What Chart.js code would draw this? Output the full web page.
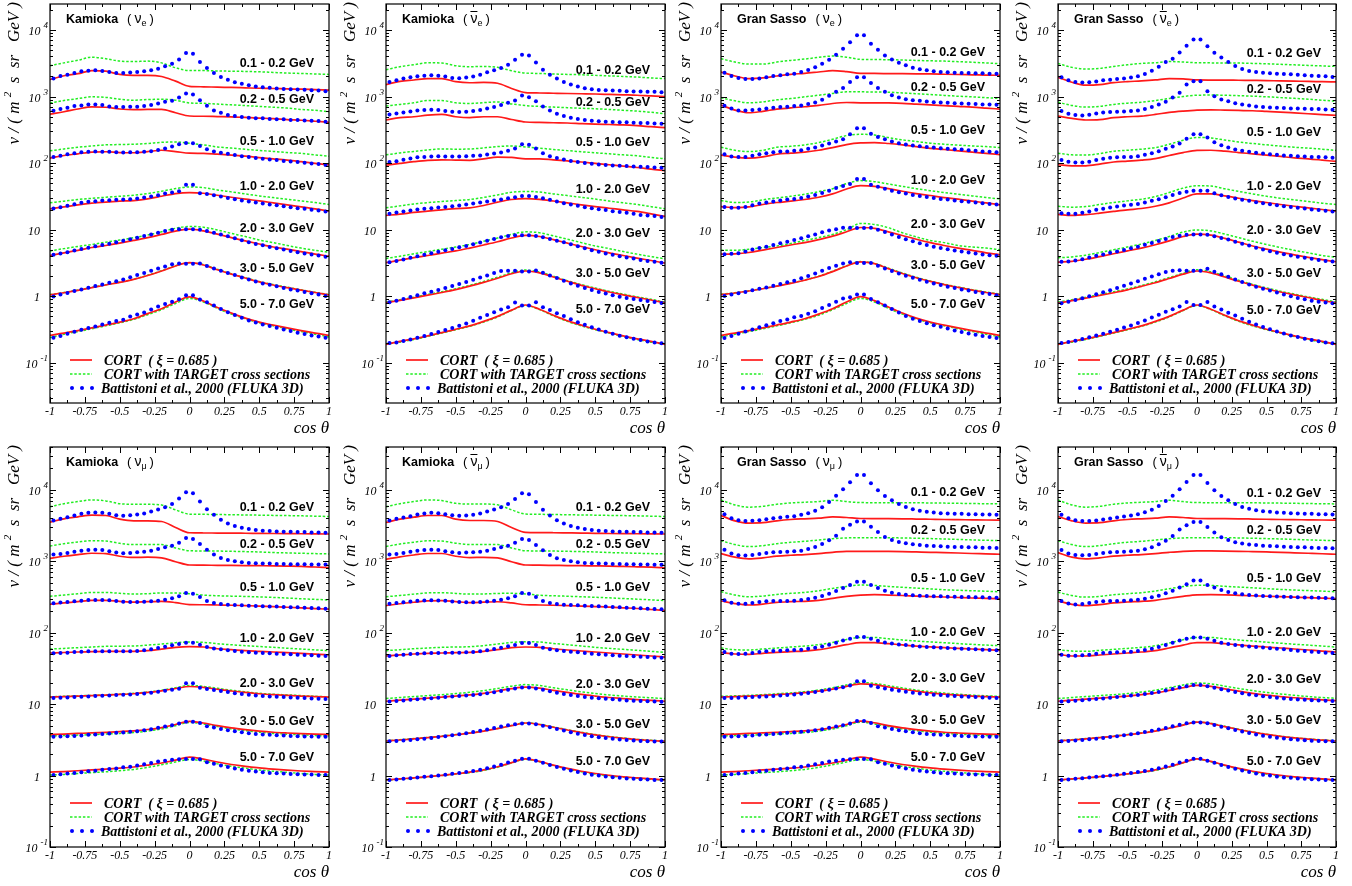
<!DOCTYPE html>
<html>
<head>
<meta charset="utf-8">
<script src="https://cdn.jsdelivr.net/npm/chart.js@4.4.1/dist/chart.umd.min.js"></script>
<style>
  body { margin: 0; background: #fff; width: 1352px; height: 886px; overflow: hidden; position: relative; }
  canvas { position: absolute; }
</style>
</head>
<body>
<script>
// cos(theta) grid of the two CORT curves, and the 40 bin centres of the FLUKA points
var xLine = [-1, -0.9, -0.8, -0.7, -0.6, -0.5, -0.4, -0.3, -0.2, -0.1, 0, 0.1, 0.2, 0.3, 0.4, 0.5, 0.6, 0.7, 0.8, 0.9, 1];
var xDots = [-0.975, -0.925, -0.875, -0.825, -0.775, -0.725, -0.675, -0.625, -0.575, -0.525,
             -0.475, -0.425, -0.375, -0.325, -0.275, -0.225, -0.175, -0.125, -0.075, -0.025,
             0.025, 0.075, 0.125, 0.175, 0.225, 0.275, 0.325, 0.375, 0.425, 0.475,
             0.525, 0.575, 0.625, 0.675, 0.725, 0.775, 0.825, 0.875, 0.925, 0.975];
var energyBins = ["0.1 - 0.2 GeV", "0.2 - 0.5 GeV", "0.5 - 1.0 GeV", "1.0 - 2.0 GeV", "2.0 - 3.0 GeV", "3.0 - 5.0 GeV", "5.0 - 7.0 GeV"];
var xTickLabels = ["-1", "-0.75", "-0.5", "-0.25", "0", "0.25", "0.5", "0.75", "1"];
var xTickValues = [-1, -0.75, -0.5, -0.25, 0, 0.25, 0.5, 0.75, 1];
var legendLabels = ["CORT  ( \u03be = 0.685 )", "CORT with TARGET cross sections", "Battistoni et al., 2000 (FLUKA 3D)"];

// ---------- Kamioka, nu_e ----------
var kamNueCort = [
  [1800,2050,2200,2450,2400,2150,2080,2080,2000,1700,1420,1400,1380,1370,1350,1330,1320,1300,1290,1270,1250],
  [545,590,650,700,690,650,635,640,640,570,510,505,500,495,485,475,465,450,440,425,410],
  [119,130,138,146,148,144,143,149,156,149,141,140,136,132,127,121,116,111,105,99,94],
  [20.6,22.0,23.6,25.0,26.0,26.8,27.4,29.0,31.8,34.9,36.1,35.3,32.9,30.7,28.7,27.1,25.3,23.6,22.0,20.6,19.0],
  [4.1,4.5,4.9,5.4,5.8,6.3,6.9,7.6,8.5,9.5,10.2,9.6,8.6,7.6,6.8,6.1,5.5,5.1,4.7,4.3,4.0],
  [1.05,1.13,1.23,1.35,1.48,1.62,1.80,2.05,2.40,2.85,3.2,2.95,2.5,2.15,1.88,1.65,1.48,1.35,1.24,1.14,1.05],
  [0.26,0.28,0.305,0.335,0.37,0.41,0.46,0.55,0.65,0.82,0.98,0.85,0.68,0.56,0.47,0.41,0.37,0.335,0.305,0.28,0.26]
];
var kamNueTarget = [
  [2900,3200,3500,3900,3700,3400,3350,3400,3200,2700,2450,2450,2420,2400,2380,2350,2300,2250,2220,2180,2150],
  [800,870,930,990,970,910,880,900,910,880,800,790,770,750,730,710,690,670,640,620,590],
  [153,163,173,181,188,190,192,197,205,208,199,188,175,168,161,155,150,144,140,133,127],
  [25.3,26.8,28.4,29.6,30.7,31.8,32.9,34.9,37.8,41.5,43.9,42.9,39.6,37.0,34.5,32.2,30.4,28.7,27.1,25.6,23.9],
  [4.8,5.2,5.6,6.0,6.5,7.0,7.6,8.3,9.3,10.5,11.2,10.9,9.9,8.8,7.9,7.0,6.4,5.8,5.3,4.9,4.6],
  [1.06,1.14,1.24,1.36,1.49,1.63,1.81,2.07,2.42,2.88,3.2,3.0,2.55,2.18,1.9,1.67,1.5,1.37,1.25,1.15,1.06],
  [0.24,0.27,0.295,0.325,0.36,0.40,0.45,0.53,0.63,0.78,0.93,0.82,0.66,0.54,0.46,0.40,0.36,0.325,0.295,0.27,0.245]
];
var kamNueFluka = [
  [1860,2030,2130,2250,2390,2440,2470,2420,2330,2260,2260,2300,2330,2390,2470,2620,2840,3110,3610,4490,4390,3290,2680,2260,1970,1790,1640,1550,1480,1410,1380,1350,1320,1300,1290,1270,1260,1240,1230,1200],
  [611,647,677,718,734,760,760,743,710,693,693,702,702,718,743,786,832,861,966,1109,1071,881,726,618,570,527,509,492,481,470,470,459,454,454,444,444,438,433,428,419],
  [124,129,136,141,146,148,149,148,148,146,144,146,146,148,151,158,166,177,192,201,199,181,162,149,143,138,132,127,123,119,116,113,111,108,106,104,101,99,97,94],
  [20.8,21.8,22.8,24.2,25.3,26.2,26.8,27.4,27.8,28.1,28.4,28.7,29.4,30.4,31.4,32.9,34.9,36.1,37.8,47.5,47.5,35.3,34.5,32.9,31.4,30.0,28.7,27.4,26.5,25.6,24.7,23.9,23.3,22.5,21.8,21.0,20.6,19.9,19.4,18.8],
  [4.19,4.38,4.59,4.86,5.14,5.38,5.64,5.90,6.18,6.47,6.85,7.17,7.60,8.04,8.51,9.02,9.55,10.0,10.2,10.2,10.2,10.0,9.55,9.02,8.51,7.95,7.43,6.93,6.47,6.11,5.83,5.51,5.26,5.03,4.81,4.59,4.38,4.24,4.09,3.91],
  [0.99,1.06,1.12,1.20,1.27,1.35,1.43,1.51,1.60,1.69,1.79,1.94,2.08,2.23,2.42,2.62,2.81,3.04,3.11,3.08,3.08,3.11,2.84,2.62,2.42,2.23,2.08,1.92,1.79,1.67,1.56,1.49,1.41,1.33,1.27,1.22,1.16,1.11,1.06,1.01],
  [0.239,0.253,0.274,0.294,0.315,0.333,0.353,0.378,0.400,0.424,0.443,0.498,0.532,0.570,0.632,0.701,0.769,0.832,0.902,1.035,1.035,0.892,0.813,0.726,0.647,0.577,0.526,0.475,0.433,0.405,0.378,0.357,0.337,0.318,0.301,0.284,0.271,0.259,0.250,0.239]
];
var kamNueLabelY = [3110, 906, 212, 44, 10.4, 2.65, 0.745];

// ---------- Kamioka, anti nu_e ----------
var kamNuebarCort = [
  [1510,1690,1770,1857,1857,1670,1610,1630,1580,1320,1145,1130,1120,1110,1100,1090,1075,1060,1045,1020,1000],
  [444,481,497,525,538,497,481,497,497,452,414,409,404,400,392,385,380,375,365,352,340],
  [93,99,105,110,112,111,110,116,123,122,116,116,112,108,104,99,94.5,90,86,81,77],
  [16.4,17.1,18.2,19.0,19.9,20.8,21.3,23.1,25.9,28.4,29.3,28.6,27.0,25.3,23.6,22.2,21.0,19.9,18.8,17.3,15.8],
  [3.2,3.5,3.8,4.1,4.45,4.8,5.3,5.9,6.6,7.5,8.2,7.9,7.1,6.3,5.6,5.0,4.5,4.1,3.75,3.45,3.15],
  [0.80,0.87,0.95,1.04,1.14,1.26,1.42,1.62,1.87,2.18,2.4,2.25,1.95,1.68,1.46,1.30,1.16,1.05,0.96,0.88,0.80],
  [0.19,0.21,0.23,0.255,0.285,0.32,0.36,0.42,0.50,0.62,0.74,0.64,0.52,0.43,0.37,0.32,0.285,0.255,0.23,0.21,0.19]
];
var kamNuebarTarget = [
  [2529,2800,3005,3210,3180,2900,2800,2830,2740,2440,2250,2220,2180,2150,2120,2080,2040,2000,1960,1900,1857],
  [720,760,804,871,871,804,785,810,830,775,730,710,693,680,665,655,640,620,604,580,551],
  [133,142,150,158,163,162,163,169,177,181,175,168,160,154,148,143,138,133,129,122,116],
  [21.3,22.8,24.4,25.5,26.5,27.4,28.4,30.5,33.3,36.5,37.6,36.8,34.5,32.5,30.7,28.8,27.0,25.3,23.9,22.2,20.6],
  [3.7,4.0,4.35,4.7,5.1,5.5,6.0,6.7,7.5,8.5,9.3,9.0,8.1,7.2,6.4,5.7,5.2,4.7,4.3,3.95,3.65],
  [0.82,0.89,0.97,1.07,1.17,1.30,1.46,1.67,1.93,2.25,2.48,2.32,2.0,1.72,1.50,1.33,1.19,1.08,0.98,0.90,0.82],
  [0.19,0.205,0.225,0.25,0.28,0.315,0.355,0.41,0.49,0.61,0.73,0.63,0.51,0.42,0.36,0.315,0.28,0.25,0.225,0.205,0.19]
];
var kamNuebarFluka = [
  [1655,1754,1857,1945,2011,2057,2081,2057,1990,1900,1878,1922,1990,2129,2307,2472,2679,3005,3566,4236,4140,3255,2529,2129,1857,1655,1510,1409,1330,1286,1258,1245,1230,1216,1202,1188,1188,1175,1175,1161],
  [538,557,577,597,618,625,632,625,604,590,583,590,604,625,662,693,743,804,871,1035,977,851,710,618,551,509,481,459,444,433,424,419,414,409,409,405,400,400,395,391],
  [104,107,112,117,122,124,126,127,126,126,126,127,129,130,135,139,144,153,166,192,188,166,141,127,119,113,108,104,100,97.7,95.5,93.3,92.3,91.2,90.2,89.1,88.1,87.1,86.1,85.1],
  [17.3,18.2,18.8,19.4,20.1,20.6,21.0,21.5,22.0,22.5,23.1,23.9,24.7,25.6,26.5,27.4,28.4,29.7,30.7,32.2,32.2,31.1,29.7,28.1,26.5,25.0,23.9,22.8,21.8,21.0,20.3,19.7,19.0,18.4,17.9,17.3,16.7,16.4,16.0,15.5],
  [3.25,3.40,3.56,3.78,4.00,4.19,4.44,4.65,4.92,5.14,5.45,5.71,6.04,6.40,6.85,7.26,7.69,8.04,8.23,8.23,8.23,8.04,7.69,7.26,6.85,6.47,6.04,5.64,5.26,4.92,4.65,4.38,4.19,4.00,3.82,3.69,3.52,3.40,3.29,3.18],
  [0.813,0.861,0.912,0.977,1.035,1.11,1.17,1.24,1.33,1.43,1.53,1.64,1.77,1.92,2.06,2.23,2.39,2.42,2.42,2.36,2.36,2.44,2.25,2.06,1.88,1.71,1.56,1.44,1.33,1.24,1.16,1.10,1.035,0.989,0.944,0.912,0.881,0.851,0.822,0.794],
  [0.199,0.203,0.213,0.225,0.239,0.253,0.271,0.290,0.311,0.333,0.361,0.391,0.429,0.475,0.526,0.577,0.632,0.686,0.804,0.726,0.726,0.813,0.686,0.625,0.557,0.508,0.454,0.409,0.373,0.344,0.318,0.294,0.274,0.256,0.242,0.231,0.220,0.210,0.203,0.197]
];
var kamNuebarLabelY = [2470, 802, 203, 39.9, 8.9, 2.17, 0.63];

// ---------- Gran Sasso, nu_e ----------
var gsNueCort = [
  [2333,2033,1857,1900,2033,2153,2228,2333,2443,2360,2228,2220,2210,2200,2190,2180,2160,2140,2120,2100,2081],
  [743,625,570,600,645,677,702,734,786,813,804,804,800,790,770,751,730,710,693,670,647],
  [132,123,119,124,136,141,146,156,171,190,201,203,197,188,177,167,160,153,146,140,134],
  [22.2,21.5,22.0,23.9,25.6,26.8,28.4,30.7,34.5,40.8,45.8,44.8,41.3,37.8,34.9,32.6,30.4,28.7,26.8,25.3,23.6],
  [4.3,4.35,4.55,4.95,5.4,5.9,6.4,7.1,8.0,9.3,10.8,10.5,9.3,8.2,7.2,6.4,5.8,5.3,4.9,4.5,4.2],
  [1.06,1.12,1.20,1.30,1.42,1.56,1.74,1.98,2.35,2.85,3.3,3.1,2.6,2.2,1.9,1.68,1.5,1.36,1.24,1.14,1.06],
  [0.26,0.28,0.305,0.335,0.37,0.41,0.46,0.54,0.65,0.82,0.99,0.86,0.69,0.56,0.47,0.41,0.37,0.335,0.305,0.28,0.26]
];
var gsNueTarget = [
  [3700,3290,3070,3070,3290,3485,3650,3870,4050,3900,3608,3590,3570,3530,3480,3440,3400,3340,3270,3190,3111],
  [955,861,804,832,891,933,990,1047,1109,1175,1175,1170,1161,1130,1100,1071,1040,1010,990,960,933],
  [173,156,149,156,173,179,188,203,228,259,271,265,242,223,211,199,192,186,181,177,171],
  [27.4,25.6,26.0,28.1,30.0,31.8,34.1,37.3,41.3,49.2,54.6,52.7,48.6,44.8,41.3,38.6,36.1,34.1,32.2,30.4,29.0],
  [4.9,4.9,5.1,5.4,5.7,6.2,6.9,7.6,8.5,10.0,12.4,12.0,10.7,9.0,7.8,6.9,6.4,5.8,5.5,5.3,5.0],
  [1.07,1.13,1.21,1.31,1.43,1.58,1.76,2.0,2.38,2.88,3.32,3.12,2.65,2.24,1.93,1.7,1.52,1.38,1.26,1.16,1.08],
  [0.245,0.27,0.295,0.325,0.36,0.40,0.45,0.52,0.63,0.78,0.93,0.82,0.66,0.54,0.46,0.40,0.36,0.325,0.295,0.27,0.245]
];
var gsNueFluka = [
  [2280,2033,1900,1836,1836,1857,1944,2033,2081,2153,2203,2333,2500,2741,3111,3566,4236,5204,6546,8318,8318,6180,5027,4140,3608,3217,2936,2710,2558,2470,2388,2333,2307,2280,2255,2255,2228,2228,2203,2203],
  [726,662,618,618,625,640,662,677,693,702,718,734,769,813,891,1023,1175,1346,1655,1944,1944,1600,1346,1175,1047,966,912,881,861,841,822,813,804,795,786,777,769,760,760,751],
  [136,126,123,123,129,136,141,146,149,149,153,156,164,171,184,197,211,228,271,333,333,277,247,228,211,199,190,184,179,175,171,167,164,162,160,156,153,149,148,146],
  [22.0,21.3,21.3,22.0,23.3,24.7,25.6,26.5,27.4,28.4,29.0,30.0,31.4,33.3,35.7,38.6,42.3,45.3,48.6,57.7,57.7,47.5,44.3,41.3,38.6,36.5,34.9,33.3,32.2,31.1,30.0,29.0,28.4,27.4,26.8,26.2,25.6,25.0,24.4,23.9],
  [4.29,4.34,4.44,4.70,5.03,5.32,5.57,5.90,6.25,6.62,7.01,7.43,7.95,8.51,9.12,9.77,10.2,10.7,10.7,10.6,10.6,10.7,10.0,9.23,8.51,7.78,7.17,6.70,6.25,5.90,5.57,5.32,5.08,4.86,4.70,4.54,4.38,4.24,4.14,4.05],
  [1.01,1.06,1.11,1.16,1.23,1.30,1.36,1.44,1.53,1.62,1.71,1.86,2.01,2.20,2.42,2.65,2.87,3.11,3.25,3.15,3.15,3.15,2.87,2.62,2.39,2.20,2.03,1.90,1.77,1.66,1.56,1.48,1.39,1.33,1.27,1.22,1.16,1.12,1.08,1.035],
  [0.236,0.253,0.274,0.297,0.318,0.344,0.369,0.395,0.424,0.449,0.486,0.508,0.545,0.597,0.670,0.743,0.832,0.923,0.966,1.06,1.06,0.912,0.813,0.726,0.647,0.570,0.508,0.459,0.424,0.395,0.369,0.349,0.329,0.307,0.290,0.277,0.265,0.253,0.244,0.236]
];
var gsNueLabelY = [4540, 1352, 313, 55.6, 12.0, 2.94, 0.745];

// ---------- Gran Sasso, anti nu_e ----------
var gsNuebarCort = [
  [1944,1636,1480,1510,1618,1675,1714,1772,1857,1836,1772,1768,1764,1754,1745,1735,1714,1700,1690,1670,1655],
  [508,470,444,449,481,497,508,538,577,604,625,632,625,618,611,597,583,567,551,535,520],
  [94.5,91.2,91.2,96.5,104,107,111,117,130,144,155,156,151,144,138,132,126,120,116,111,106],
  [17.0,16.4,16.8,17.7,18.8,19.9,20.8,22.5,25.3,30.0,34.5,34.5,32.2,29.7,27.4,25.6,23.9,22.5,21.3,20.1,19.0],
  [3.25,3.35,3.6,3.95,4.35,4.8,5.3,5.95,6.8,7.9,8.6,8.3,7.4,6.5,5.7,5.1,4.6,4.2,3.85,3.55,3.3],
  [0.79,0.86,0.94,1.03,1.13,1.25,1.41,1.60,1.85,2.15,2.4,2.25,1.95,1.68,1.47,1.30,1.16,1.05,0.96,0.87,0.80],
  [0.19,0.21,0.23,0.255,0.285,0.32,0.36,0.42,0.50,0.62,0.74,0.64,0.52,0.43,0.37,0.32,0.285,0.255,0.23,0.21,0.19]
];
var gsNuebarTarget = [
  [3140,2740,2588,2640,2830,3000,3140,3210,3360,3292,3210,3200,3190,3180,3140,3100,3040,2990,2930,2880,2830],
  [820,734,693,710,760,795,820,871,933,1000,1047,1050,1047,1030,1012,990,966,940,912,880,851],
  [141,133,132,139,151,156,162,171,192,221,242,239,222,208,197,188,180,173,168,162,155],
  [22.5,21.8,22.3,23.9,25.6,27.1,28.7,31.4,36.1,42.1,45.8,45.3,41.1,37.6,34.5,31.8,29.7,28.1,26.5,25.0,23.9],
  [3.8,3.9,4.15,4.55,5.0,5.5,6.1,6.9,7.9,9.2,9.9,9.6,8.6,7.6,6.7,6.0,5.4,4.9,4.5,4.1,3.85],
  [0.82,0.89,0.97,1.06,1.17,1.29,1.45,1.65,1.91,2.22,2.5,2.33,2.02,1.74,1.51,1.34,1.19,1.08,0.98,0.90,0.82],
  [0.19,0.205,0.225,0.25,0.28,0.315,0.355,0.41,0.49,0.61,0.73,0.63,0.51,0.42,0.36,0.315,0.28,0.25,0.225,0.205,0.19]
];
var gsNuebarFluka = [
  [1944,1754,1655,1618,1636,1675,1754,1793,1836,1857,1922,2011,2178,2443,2805,3292,3690,4590,5773,7175,7175,5706,4540,3863,3292,2868,2588,2415,2333,2280,2228,2203,2178,2153,2129,2081,2057,2033,2011,1966],
  [604,551,526,520,532,557,577,583,590,597,604,618,647,693,760,832,966,1135,1510,1694,1694,1202,1012,902,851,795,760,734,710,693,686,677,670,662,662,655,647,647,640,632],
  [111,105,102,102,105,111,116,120,122,123,124,127,133,141,151,164,177,197,233,271,271,242,206,186,171,160,153,148,143,139,136,133,130,129,127,126,124,123,122,120],
  [17.7,17.3,17.3,17.9,18.8,19.9,20.6,21.5,22.3,23.1,23.6,24.4,25.6,27.1,28.7,30.7,33.3,35.7,37.3,38.6,38.6,38.6,35.3,32.9,31.1,29.4,28.1,27.1,25.9,25.0,24.2,23.3,22.5,22.0,21.3,20.8,20.1,19.7,19.2,18.8],
  [3.29,3.33,3.44,3.61,3.82,4.05,4.24,4.49,4.70,4.97,5.26,5.57,5.97,6.32,6.78,7.26,7.78,8.13,8.41,8.51,8.51,8.41,7.95,7.51,7.10,6.62,6.18,5.77,5.38,5.03,4.75,4.49,4.29,4.09,3.91,3.78,3.65,3.52,3.40,3.33],
  [0.787,0.832,0.881,0.933,1.00,1.07,1.15,1.23,1.33,1.44,1.56,1.69,1.84,1.99,2.15,2.31,2.42,2.47,2.42,2.42,2.42,2.59,2.33,2.15,1.97,1.79,1.64,1.51,1.39,1.30,1.22,1.14,1.06,1.00,0.944,0.902,0.861,0.832,0.804,0.787],
  [0.199,0.206,0.216,0.228,0.242,0.257,0.274,0.294,0.316,0.340,0.366,0.397,0.434,0.480,0.53,0.585,0.64,0.70,0.82,0.74,0.74,0.82,0.70,0.635,0.565,0.515,0.46,0.415,0.378,0.347,0.321,0.297,0.277,0.259,0.244,0.231,0.220,0.211,0.203,0.197]
];
var gsNuebarLabelY = [4385, 1285, 286, 44.8, 9.66, 2.17, 0.61];

// ---------- Kamioka, nu_mu ----------
var kamNumuCort = [
  [3550,3947,4210,4440,4390,3900,3700,3700,3620,2990,2520,2500,2495,2490,2480,2470,2460,2450,2440,2430,2420],
  [1100,1180,1245,1300,1285,1180,1135,1145,1119,990,890,885,880,878,875,870,865,858,850,835,820],
  [251,262,273,285,285,276,268,273,276,265,248,247,245,243,240,237,233,228,223,218,214],
  [52.1,53.0,53.8,54.4,55.0,55.0,55.0,56.2,59.2,62.6,63.9,63.2,59.8,58.0,56.2,55.0,53.8,52.7,51.6,50.2,48.9],
  [12.6,12.8,13.0,13.2,13.4,13.7,14.0,14.6,15.4,16.6,17.7,17.2,16.2,15.3,14.6,14.0,13.6,13.3,13.0,12.8,12.6],
  [3.76,3.82,3.89,3.96,4.04,4.13,4.24,4.42,4.7,5.2,5.76,5.45,5.0,4.65,4.4,4.2,4.05,3.95,3.87,3.81,3.76],
  [1.12,1.14,1.17,1.2,1.23,1.27,1.32,1.4,1.5,1.65,1.82,1.7,1.55,1.43,1.35,1.28,1.23,1.19,1.16,1.14,1.12]
];
var kamNumuTarget = [
  [5800,6430,6880,7260,7030,6430,6300,6300,6170,5270,4590,4560,4535,4500,4470,4440,4410,4380,4345,4300,4250],
  [1640,1770,1870,1950,1930,1790,1720,1730,1720,1540,1410,1400,1395,1385,1370,1355,1330,1315,1300,1285,1272],
  [325,337,353,368,368,357,349,353,361,361,353,337,330,326,323,318,313,306,300,294,288],
  [59.2,60.5,61.9,63.2,64.6,65.0,65.3,67.2,69.5,72.6,74.2,73.4,70.3,68.0,66.0,64.2,62.6,60.8,59.2,57.7,56.2],
  [12.7,12.9,13.1,13.3,13.5,13.8,14.2,14.8,15.7,17.0,18.3,17.8,16.7,15.7,14.9,14.2,13.8,13.5,13.2,12.9,12.7],
  [3.6,3.64,3.69,3.75,3.82,3.9,4.0,4.2,4.5,5.0,5.55,5.3,4.85,4.5,4.25,4.05,3.9,3.8,3.72,3.65,3.6],
  [1.02,1.04,1.07,1.1,1.13,1.17,1.22,1.3,1.42,1.55,1.68,1.6,1.46,1.35,1.27,1.2,1.15,1.11,1.07,1.04,1.02]
];
var kamNumuFluka = [
  [3742,3947,4163,4392,4633,4784,4836,4784,4633,4439,4345,4439,4535,4683,4993,5323,5737,6383,7573,9280,8985,6880,5381,4487,3823,3399,3120,2958,2834,2745,2687,2658,2630,2602,2602,2574,2574,2547,2547,2520],
  [1245,1272,1313,1370,1415,1446,1461,1446,1385,1327,1299,1313,1341,1370,1415,1493,1575,1661,1829,2124,2057,1752,1461,1245,1119,1049,1005,974,953,943,933,933,923,923,913,913,913,904,904,904],
  [259,265,270,276,282,288,288,288,285,279,273,270,270,273,276,282,291,304,324,361,353,317,279,262,254,248,245,243,240,238,235,233,233,230,228,228,225,223,220,218],
  [51.6,52.1,52.7,53.8,54.4,55.0,55.0,55.0,55.0,55.0,55.0,55.0,55.6,56.8,58.6,61.2,63.9,66.7,69.5,72.6,72.6,68.1,63.2,60.5,58.6,56.8,55.6,54.4,53.2,52.7,52.1,51.6,51.0,50.5,49.9,49.4,48.9,48.3,47.8,47.3],
  [12.18,12.31,12.45,12.58,12.71,12.85,12.99,13.13,13.27,13.41,13.55,13.70,13.85,14.14,14.45,14.93,15.42,15.93,16.44,19.7,19.7,16.98,16.27,15.76,15.26,14.77,14.29,13.85,13.55,13.27,12.99,12.85,12.71,12.58,12.45,12.31,12.18,12.05,11.93,11.80],
  [3.49,3.53,3.56,3.60,3.64,3.72,3.76,3.84,3.88,3.97,4.01,4.10,4.19,4.33,4.47,4.66,4.86,5.08,5.36,5.70,5.70,5.47,4.91,4.71,4.51,4.33,4.19,4.06,3.93,3.84,3.76,3.72,3.68,3.64,3.60,3.56,3.53,3.53,3.49,3.49],
  [1.021,1.044,1.066,1.09,1.11,1.15,1.17,1.21,1.24,1.26,1.31,1.33,1.38,1.44,1.50,1.57,1.62,1.67,1.69,1.71,1.71,1.69,1.54,1.47,1.39,1.32,1.26,1.21,1.17,1.14,1.11,1.09,1.08,1.066,1.054,1.044,1.033,1.033,1.021,1.021]
];
var kamNumuLabelY = [5720, 1746, 426, 83, 19.4, 5.8, 1.77];

// ---------- Kamioka, anti nu_mu ----------
var kamNumubarCort = [
  [3510,3900,4160,4390,4390,3900,3740,3740,3620,2990,2550,2530,2520,2505,2490,2470,2460,2450,2440,2430,2420],
  [1070,1160,1230,1290,1290,1180,1130,1140,1120,990,890,885,880,875,870,865,860,850,840,830,815],
  [240,255,268,280,282,274,265,268,272,262,247,245,243,240,237,233,229,224,219,212,205],
  [47.3,49.0,50.5,51.6,52.1,52.7,53.2,55.0,58.0,61.9,63.2,62.6,59.8,57.4,55.6,53.8,52.1,50.5,48.9,47.3,45.7],
  [11.0,11.4,11.8,12.2,12.6,13.0,13.5,14.2,15.3,16.5,17.3,16.8,15.6,14.6,13.7,13.0,12.4,12.0,11.6,11.3,11.0],
  [3.05,3.15,3.27,3.4,3.55,3.73,3.94,4.2,4.55,5.0,5.45,5.2,4.75,4.35,4.0,3.72,3.5,3.33,3.2,3.1,3.02],
  [0.87,0.9,0.93,0.97,1.01,1.06,1.12,1.2,1.33,1.52,1.72,1.58,1.4,1.26,1.15,1.07,1.01,0.96,0.93,0.9,0.87]
];
var kamNumubarTarget = [
  [5800,6430,6880,7260,7100,6500,6350,6350,6200,5270,4600,4560,4535,4500,4470,4440,4410,4380,4345,4300,4250],
  [1620,1750,1860,1940,1930,1800,1720,1730,1720,1540,1410,1400,1395,1385,1370,1355,1330,1315,1300,1285,1272],
  [320,333,348,362,365,356,348,350,356,357,350,336,330,325,320,314,309,302,296,289,283],
  [56.2,58.0,59.8,61.2,62.6,63.2,63.9,66.0,69.5,73.4,75.0,74.2,71.0,68.1,65.3,62.6,60.5,58.6,56.8,55.0,53.2],
  [12.0,12.4,12.8,13.2,13.6,14.1,14.7,15.5,16.6,17.9,18.8,18.3,17.0,15.9,14.9,14.1,13.5,13.0,12.6,12.3,12.0],
  [3.08,3.18,3.3,3.43,3.58,3.76,3.97,4.23,4.58,5.03,5.5,5.25,4.8,4.4,4.04,3.75,3.53,3.36,3.23,3.13,3.05],
  [0.86,0.89,0.92,0.96,1.0,1.05,1.1,1.18,1.31,1.5,1.69,1.56,1.38,1.24,1.13,1.05,0.99,0.95,0.92,0.89,0.86]
];
var kamNumubarFluka = [
  [3742,3947,4120,4300,4535,4683,4784,4733,4585,4439,4345,4392,4487,4683,4993,5323,5737,6383,7492,8985,8705,6806,5267,4392,3783,3399,3120,2958,2834,2745,2687,2658,2630,2602,2602,2574,2574,2547,2547,2520],
  [1245,1272,1313,1370,1415,1446,1461,1446,1385,1341,1313,1327,1341,1370,1415,1493,1575,1661,1829,2057,2000,1700,1430,1230,1110,1049,1005,974,953,943,933,933,923,923,913,913,904,904,895,895],
  [255,262,268,274,280,284,285,284,280,275,270,268,268,271,275,282,291,304,324,361,353,317,279,262,254,248,245,243,240,238,235,233,230,228,225,223,220,218,216,214],
  [47.3,48.3,49.4,50.5,51.0,51.6,52.1,52.1,52.7,52.7,52.7,53.2,53.8,55.0,56.8,59.2,61.9,64.6,67.4,71.8,71.8,67.4,61.9,58.6,56.8,55.6,54.4,53.2,52.1,51.0,49.9,49.4,48.3,47.8,47.3,46.8,46.2,45.7,45.2,44.7],
  [10.9,11.1,11.3,11.5,11.7,11.9,12.1,12.3,12.6,12.8,13.0,13.2,13.5,13.8,14.2,14.7,15.3,15.9,16.6,17.2,17.2,16.6,15.9,15.2,14.5,13.9,13.4,13.0,12.6,12.3,12.1,11.9,11.7,11.5,11.3,11.2,11.1,11.0,10.9,10.8],
  [3.02,3.06,3.11,3.16,3.22,3.29,3.37,3.46,3.56,3.67,3.79,3.92,4.07,4.24,4.43,4.64,4.86,5.08,5.25,5.36,5.36,5.25,5.0,4.75,4.5,4.27,4.06,3.87,3.71,3.57,3.45,3.35,3.27,3.2,3.14,3.09,3.05,3.03,3.01,3.0],
  [0.87,0.88,0.90,0.92,0.94,0.96,0.98,1.0,1.03,1.06,1.09,1.12,1.16,1.21,1.27,1.34,1.42,1.52,1.62,1.72,1.72,1.62,1.51,1.41,1.32,1.25,1.18,1.12,1.07,1.03,1.0,0.97,0.95,0.93,0.91,0.90,0.89,0.88,0.87,0.87]
];
var kamNumubarLabelY = [5720, 1746, 426, 83, 19.0, 5.27, 1.56];

// ---------- Gran Sasso, nu_mu ----------
var gsNumuCort = [
  [4390,3700,3440,3480,3700,3860,3950,4030,4210,4120,3990,3980,3970,3950,3920,3890,3860,3840,3820,3800,3783],
  [1285,1145,1085,1120,1185,1220,1245,1285,1341,1385,1385,1385,1380,1370,1355,1340,1327,1310,1290,1275,1258],
  [279,256,245,252,267,273,276,285,304,324,338,342,338,333,327,322,317,312,307,303,300],
  [52.7,50.5,49.9,51.6,53.2,54.4,55.5,58.0,62.5,68.1,72.6,72.6,70.3,67.7,65.2,63.4,61.8,60.5,59.3,58.0,56.8],
  [12.6,12.8,13.0,13.3,13.6,14.0,14.5,15.2,16.3,17.8,19.3,18.8,17.4,16.2,15.2,14.4,13.8,13.4,13.0,12.8,12.6],
  [3.76,3.82,3.89,3.96,4.04,4.13,4.24,4.42,4.7,5.2,5.8,5.5,5.0,4.65,4.4,4.2,4.05,3.95,3.87,3.81,3.76],
  [1.12,1.14,1.17,1.2,1.23,1.27,1.32,1.4,1.5,1.65,1.82,1.7,1.55,1.43,1.35,1.28,1.23,1.19,1.16,1.14,1.12]
];
var gsNumuTarget = [
  [7230,6180,5740,5920,6310,6590,6730,6880,7180,6880,6660,6650,6640,6630,6610,6590,6550,6510,6460,6420,6383],
  [1950,1720,1610,1660,1770,1850,1910,1990,2080,2130,2150,2150,2145,2130,2110,2085,2060,2030,2000,1975,1950],
  [376,338,320,327,345,357,368,388,418,446,466,461,446,434,423,412,401,394,388,382,376],
  [61.2,58.0,57.4,59.3,61.2,63.2,65.2,68.1,73.3,80.8,86.2,86.2,82.5,79.4,76.6,74.5,72.6,70.6,68.8,67.3,65.9],
  [12.9,13.1,13.3,13.6,14.0,14.4,15.0,15.8,17.0,18.6,20.1,19.6,18.2,16.9,15.8,15.0,14.3,13.8,13.4,13.1,12.9],
  [3.6,3.64,3.69,3.75,3.82,3.9,4.0,4.2,4.5,5.0,5.6,5.3,4.85,4.5,4.25,4.05,3.9,3.8,3.72,3.65,3.6],
  [1.02,1.04,1.07,1.1,1.13,1.17,1.22,1.3,1.42,1.55,1.68,1.6,1.46,1.35,1.27,1.2,1.15,1.11,1.07,1.04,1.02]
];
var gsNumuFluka = [
  [4585,4033,3783,3664,3703,3783,3905,4033,4120,4209,4300,4487,4733,5100,5737,6806,8337,10210,12790,16170,16170,12380,9894,8250,7178,6383,5799,5381,5100,4940,4836,4733,4683,4633,4633,4585,4585,4535,4535,4487],
  [1461,1285,1219,1206,1232,1272,1313,1341,1356,1370,1385,1415,1493,1592,1752,1971,2289,2865,3257,3624,3624,3055,2574,2193,1992,1868,1790,1734,1697,1661,1644,1626,1609,1592,1592,1575,1575,1558,1558,1541],
  [285,264,256,256,262,270,276,279,279,279,282,288,297,310,327,353,384,423,466,518,518,466,423,388,364,349,342,335,331,327,324,324,320,320,317,317,314,314,310,310],
  [53.8,51.0,50.5,51.0,52.1,53.8,55.0,55.5,56.2,56.8,57.4,58.0,59.9,61.8,64.5,68.1,72.6,78.2,82.5,87.0,87.0,82.5,77.4,73.3,71.0,68.8,67.3,65.9,64.5,63.2,62.5,61.8,61.2,60.5,59.9,59.3,58.6,58.0,57.4,56.8],
  [12.18,12.18,12.31,12.45,12.58,12.71,12.85,12.99,13.27,13.41,13.70,13.99,14.30,14.77,15.26,15.93,16.6,17.3,18.3,21.0,21.0,18.1,17.3,16.6,15.93,15.42,14.93,14.45,14.14,13.85,13.55,13.41,13.13,12.99,12.85,12.71,12.58,12.45,12.31,12.18],
  [3.49,3.53,3.56,3.60,3.64,3.72,3.76,3.84,3.88,3.97,4.01,4.10,4.19,4.33,4.47,4.66,4.86,5.08,5.36,5.80,5.80,5.47,4.91,4.71,4.51,4.33,4.19,4.06,3.93,3.84,3.76,3.72,3.68,3.64,3.60,3.56,3.53,3.53,3.49,3.49],
  [1.021,1.044,1.066,1.09,1.11,1.15,1.17,1.21,1.24,1.26,1.31,1.33,1.38,1.44,1.50,1.57,1.62,1.67,1.69,1.71,1.71,1.69,1.54,1.47,1.39,1.32,1.26,1.21,1.17,1.14,1.11,1.09,1.08,1.066,1.054,1.044,1.033,1.033,1.021,1.021]
];
var gsNumuLabelY = [9080, 2737, 569, 101, 22.6, 5.99, 1.79];

// ---------- Gran Sasso, anti nu_mu ----------
var gsNumubarCort = [
  [4250,3700,3440,3480,3700,3860,3950,4030,4210,4120,3990,3980,3970,3950,3920,3890,3860,3840,3820,3800,3783],
  [1330,1145,1085,1120,1185,1220,1245,1285,1341,1385,1400,1400,1395,1385,1370,1355,1340,1320,1300,1280,1258],
  [279,250,240,248,262,270,276,285,304,324,340,342,340,335,330,325,320,315,310,306,300],
  [49.9,47.3,47.3,48.9,50.5,52.1,53.8,56.2,61.2,67.3,72.6,72.6,70.3,67.7,65.2,63.2,61.2,59.3,57.4,55.5,53.8],
  [11.0,11.4,11.8,12.2,12.6,13.0,13.6,14.4,15.6,17.0,18.3,17.8,16.4,15.2,14.2,13.4,12.8,12.3,11.9,11.5,11.2],
  [3.05,3.15,3.27,3.4,3.55,3.73,3.94,4.2,4.6,5.1,5.6,5.35,4.85,4.42,4.06,3.77,3.54,3.37,3.24,3.13,3.05],
  [0.87,0.9,0.93,0.97,1.01,1.06,1.12,1.2,1.33,1.52,1.72,1.58,1.4,1.26,1.15,1.07,1.01,0.96,0.93,0.9,0.87]
];
var gsNumubarTarget = [
  [7230,6180,5740,5920,6310,6590,6730,6880,7180,6880,6660,6650,6640,6630,6610,6590,6550,6510,6460,6420,6383],
  [1950,1720,1610,1660,1770,1850,1910,1990,2080,2130,2150,2150,2145,2130,2110,2085,2060,2030,2000,1975,1950],
  [370,333,316,323,341,353,364,384,414,444,462,460,448,437,426,415,405,397,390,383,376],
  [58.0,55.5,55.0,56.8,58.6,60.5,62.5,65.9,72.0,80.0,86.2,86.2,82.5,79.4,76.6,73.9,71.5,69.1,67.3,65.2,63.2],
  [12.0,12.4,12.8,13.2,13.6,14.1,14.8,15.7,17.0,18.6,19.8,19.3,17.9,16.6,15.5,14.6,13.9,13.3,12.8,12.4,12.1],
  [3.08,3.18,3.3,3.43,3.58,3.76,3.97,4.23,4.63,5.13,5.65,5.4,4.9,4.46,4.1,3.8,3.57,3.4,3.27,3.16,3.08],
  [0.86,0.89,0.92,0.96,1.0,1.05,1.1,1.18,1.31,1.5,1.69,1.56,1.38,1.24,1.13,1.05,0.99,0.95,0.92,0.89,0.86]
];
var gsNumubarFluka = [
  [4487,4033,3783,3664,3664,3742,3865,3990,4120,4254,4392,4585,4887,5267,5988,7029,8337,10210,12920,16170,16170,12510,9894,8250,7178,6383,5799,5439,5211,5047,4940,4836,4784,4733,4683,4633,4633,4585,4585,4535],
  [1446,1285,1232,1219,1232,1272,1313,1341,1356,1370,1385,1415,1477,1575,1735,1950,2260,2800,3200,3560,3560,3020,2540,2170,1990,1860,1780,1720,1690,1661,1644,1626,1609,1592,1575,1575,1558,1541,1541,1525],
  [279,258,250,253,262,270,276,279,279,282,285,291,300,314,331,357,388,430,480,540,540,466,430,397,373,357,346,338,333,328,324,322,319,317,315,313,311,309,307,305],
  [49.4,47.8,47.8,48.3,49.4,51.0,52.1,52.7,53.2,53.8,54.4,55.5,57.4,59.9,63.2,67.3,72.6,78.2,82.5,86.2,86.2,82.5,77.4,72.6,69.5,67.3,65.9,64.5,63.2,62.0,60.8,59.9,58.6,57.4,56.2,55.5,54.4,53.8,52.7,52.1],
  [10.9,11.0,11.2,11.4,11.6,11.8,12.0,12.3,12.6,12.9,13.2,13.5,13.9,14.3,14.8,15.5,16.3,17.2,17.9,18.6,18.6,17.9,17.0,16.2,15.5,14.8,14.2,13.7,13.3,12.9,12.6,12.3,12.0,11.8,11.6,11.5,11.4,11.3,11.2,11.1],
  [3.02,3.06,3.11,3.16,3.22,3.29,3.37,3.46,3.56,3.67,3.79,3.92,4.07,4.24,4.43,4.64,4.90,5.15,5.40,5.55,5.55,5.40,5.1,4.85,4.6,4.36,4.14,3.94,3.77,3.62,3.49,3.39,3.3,3.23,3.17,3.12,3.08,3.05,3.03,3.02],
  [0.87,0.88,0.90,0.92,0.94,0.96,0.98,1.0,1.03,1.06,1.09,1.12,1.16,1.21,1.27,1.34,1.42,1.52,1.62,1.72,1.72,1.62,1.51,1.41,1.32,1.25,1.18,1.12,1.07,1.03,1.0,0.97,0.95,0.93,0.91,0.90,0.89,0.88,0.87,0.87]
];
var gsNumubarLabelY = [8970, 2737, 569, 101, 22.4, 5.9, 1.58];

// y ranges of the two rows of pads
var topRowRange = [0.025, 24500];
var bottomRowRange = [0.1, 40000];

// page geometry of the 4 x 2 pads
var colLeft = [0, 336, 671, 1008];
var colWidth = [336, 335, 337, 344];
var plotWidth = [279, 279, 279, 278];
var rowTop = [0, 443];
var rowHeight = 443;
var padBottom = [40, 39];

var panels = [
  {site: "Kamioka", flav: "e", anti: false, row: 0, col: 0, cort: kamNueCort, target: kamNueTarget, fluka: kamNueFluka, labelY: kamNueLabelY},
  {site: "Kamioka", flav: "e", anti: true, row: 0, col: 1, cort: kamNuebarCort, target: kamNuebarTarget, fluka: kamNuebarFluka, labelY: kamNuebarLabelY},
  {site: "Gran Sasso", flav: "e", anti: false, row: 0, col: 2, cort: gsNueCort, target: gsNueTarget, fluka: gsNueFluka, labelY: gsNueLabelY},
  {site: "Gran Sasso", flav: "e", anti: true, row: 0, col: 3, cort: gsNuebarCort, target: gsNuebarTarget, fluka: gsNuebarFluka, labelY: gsNuebarLabelY},
  {site: "Kamioka", flav: "\u03bc", anti: false, row: 1, col: 0, cort: kamNumuCort, target: kamNumuTarget, fluka: kamNumuFluka, labelY: kamNumuLabelY},
  {site: "Kamioka", flav: "\u03bc", anti: true, row: 1, col: 1, cort: kamNumubarCort, target: kamNumubarTarget, fluka: kamNumubarFluka, labelY: kamNumubarLabelY},
  {site: "Gran Sasso", flav: "\u03bc", anti: false, row: 1, col: 2, cort: gsNumuCort, target: gsNumuTarget, fluka: gsNumuFluka, labelY: gsNumuLabelY},
  {site: "Gran Sasso", flav: "\u03bc", anti: true, row: 1, col: 3, cort: gsNumubarCort, target: gsNumubarTarget, fluka: gsNumubarFluka, labelY: gsNumubarLabelY}
];

var RED = "#ff1a1a";
var GREEN = "#22ee22";
var BLUE = "#0000ff";
var SERIF = "\"Liberation Serif\", \"Times New Roman\", serif";
var SANS = "\"Liberation Sans\", Arial, sans-serif";

function pairs(xs, ys) {
  return xs.map(function (x, i) { return {x: x, y: ys[i]}; });
}

// draws the ROOT-like frame, ticks, labels, titles and legend of one pad
function padPlugin(p) {
  return {
    id: "pad" + p.row + p.col,
    afterDraw: function (chart) {
      var ctx = chart.ctx;
      var a = chart.chartArea;
      var xs = chart.scales.x;
      var ys = chart.scales.y;
      var yMin = ys.min, yMax = ys.max;
      ctx.save();

      // frame
      ctx.strokeStyle = "#000";
      ctx.lineWidth = 1.2;
      ctx.strokeRect(a.left, a.top, a.right - a.left, a.bottom - a.top);

      // log ticks on left and right
      ctx.lineWidth = 1;
      ctx.beginPath();
      for (var k = -2; k <= 4; k++) {
        for (var m = 1; m <= 9; m++) {
          var v = m * Math.pow(10, k);
          if (v < yMin * 0.999 || v > yMax) continue;
          var py = Math.round(ys.getPixelForValue(v)) + 0.5;
          var len = m === 1 ? 6 : 3;
          ctx.moveTo(a.left, py); ctx.lineTo(a.left + len, py);
          ctx.moveTo(a.right, py); ctx.lineTo(a.right - len, py);
        }
      }
      // cos theta ticks, top and bottom
      for (var i = 0; i <= 16; i++) {
        var px = Math.round(xs.getPixelForValue(-1 + i * 0.125)) + 0.5;
        var tl = i % 2 === 0 ? 6 : 3;
        ctx.moveTo(px, a.bottom); ctx.lineTo(px, a.bottom - tl);
        ctx.moveTo(px, a.top); ctx.lineTo(px, a.top + tl);
      }
      ctx.stroke();

      // y tick labels 1, 10, 10^k
      ctx.fillStyle = "#000";
      for (var e = -1; e <= 4; e++) {
        var val = Math.pow(10, e);
        if (val < yMin * 0.999 || val > yMax) continue;
        var yy = ys.getPixelForValue(val);
        ctx.textBaseline = "alphabetic";
        if (e === 0 || e === 1) {
          ctx.font = "italic 12px " + SERIF;
          ctx.textAlign = "right";
          ctx.fillText(e === 0 ? "1" : "10", a.left - 10, yy + 5);
        } else {
          var ex = String(e);
          ctx.font = "italic 9px " + SERIF;
          ctx.textAlign = "right";
          var expRight = a.left - 2;
          var ew = ctx.measureText(ex).width;
          ctx.fillText(ex, expRight, yy - 2);
          ctx.font = "italic 12px " + SERIF;
          ctx.fillText("10", expRight - ew - 3, yy + 5);
        }
      }

      // x tick labels
      ctx.font = "italic 12px " + SERIF;
      ctx.textAlign = "center";
      xTickValues.forEach(function (v, j) {
        ctx.fillText(xTickLabels[j], xs.getPixelForValue(v), a.bottom + 12);
      });

      // x axis title
      ctx.font = "italic 17px " + SERIF;
      ctx.textAlign = "right";
      ctx.fillText("cos \u03b8", a.right, a.bottom + 30);

      // y axis title, rotated, ending at the top of the axis
      ctx.save();
      ctx.translate(a.left - 31, a.top - 2);
      ctx.rotate(-Math.PI / 2);
      var big = "italic 17px " + SERIF, small = "italic 11px " + SERIF;
      var parts = [["\u03bd / ( m ", big, 0], ["2", small, -8], ["  s  sr   GeV )", big, 0]];
      var total = 0;
      parts.forEach(function (q) { ctx.font = q[1]; total += ctx.measureText(q[0]).width; });
      var cx = -total;
      ctx.textAlign = "left";
      parts.forEach(function (q) {
        ctx.font = q[1];
        ctx.fillText(q[0], cx, q[2]);
        cx += ctx.measureText(q[0]).width;
      });
      ctx.restore();

      // pad title, e.g. Kamioka ( nu_e )
      var tx = a.left + 16, ty = a.top + 19;
      ctx.textAlign = "left";
      ctx.font = "bold 12.5px " + SANS;
      ctx.fillText(p.site, tx, ty);
      tx += ctx.measureText(p.site).width + 9;
      ctx.font = "13px " + SANS;
      ctx.fillText("(", tx, ty);
      tx += ctx.measureText("(").width + 3;
      ctx.font = "14px " + SANS;
      var nuW = ctx.measureText("\u03bd").width;
      ctx.fillText("\u03bd", tx, ty);
      if (p.anti) {
        ctx.beginPath();
        ctx.lineWidth = 1;
        ctx.moveTo(tx, ty - 11.5); ctx.lineTo(tx + nuW, ty - 11.5);
        ctx.stroke();
      }
      tx += nuW;
      ctx.font = "9px " + SANS;
      ctx.fillText(p.flav, tx, ty + 3);
      tx += ctx.measureText(p.flav).width + 3;
      ctx.font = "13px " + SANS;
      ctx.fillText(")", tx, ty);

      // energy bin labels
      ctx.font = "bold 12.5px " + SANS;
      ctx.textAlign = "right";
      ctx.textBaseline = "middle";
      energyBins.forEach(function (lab, b) {
        ctx.fillText(lab, a.right - 15, ys.getPixelForValue(p.labelY[b]));
      });

      // legend
      var lx0 = a.left + 20, lx1 = a.left + 42, tx0 = a.left + 54;
      var rows = [a.top + 356, a.top + 370, a.top + 384];
      ctx.lineWidth = 1.7;
      ctx.strokeStyle = RED;
      ctx.beginPath(); ctx.moveTo(lx0, rows[0]); ctx.lineTo(lx1, rows[0]); ctx.stroke();
      ctx.strokeStyle = GREEN;
      ctx.setLineDash([2.5, 1.8]);
      ctx.beginPath(); ctx.moveTo(lx0, rows[1]); ctx.lineTo(lx1, rows[1]); ctx.stroke();
      ctx.setLineDash([]);
      ctx.fillStyle = BLUE;
      [lx0 + 2, lx0 + 12, lx0 + 22].forEach(function (dx) {
        ctx.beginPath(); ctx.arc(dx, rows[2], 2.0, 0, Math.PI * 2); ctx.fill();
      });
      ctx.fillStyle = "#000";
      ctx.font = "italic bold 14px " + SERIF;
      ctx.textAlign = "left";
      legendLabels.forEach(function (lab, r) {
        ctx.fillText(lab, r === 2 ? tx0 - 3 : tx0, rows[r] + 1);
      });

      ctx.restore();
    }
  };
}

panels.forEach(function (p) {
  [p.cort, p.target, p.fluka].forEach(function (set, s) {
    set.forEach(function (arr, b) {
      var want = s === 2 ? xDots.length : xLine.length;
      if (arr.length !== want) throw new Error(p.site + " " + p.flav + " set " + s + " bin " + b + " has " + arr.length);
    });
  });

  var canvas = document.createElement("canvas");
  canvas.width = colWidth[p.col];
  canvas.height = rowHeight;
  canvas.style.left = colLeft[p.col] + "px";
  canvas.style.top = rowTop[p.row] + "px";
  document.body.appendChild(canvas);

  var datasets = [];
  for (var b = 0; b < energyBins.length; b++) {
    datasets.push({
      label: legendLabels[2], data: pairs(xDots, p.fluka[b]), showLine: false,
      pointRadius: 2.0, pointBackgroundColor: BLUE, pointBorderWidth: 0, order: 0
    });
    datasets.push({
      label: legendLabels[0], data: pairs(xLine, p.cort[b]), showLine: true,
      borderColor: RED, borderWidth: 1.7, pointRadius: 0, cubicInterpolationMode: "monotone", order: 1
    });
    datasets.push({
      label: legendLabels[1], data: pairs(xLine, p.target[b]), showLine: true,
      borderColor: GREEN, borderWidth: 1.5, borderDash: [2.5, 1.8], pointRadius: 0,
      cubicInterpolationMode: "monotone", order: 2
    });
  }
  var range = p.row === 0 ? topRowRange : bottomRowRange;

  new Chart(canvas, {
    type: "scatter",
    data: {datasets: datasets},
    options: {
      responsive: false,
      animation: false,
      devicePixelRatio: 1,
      events: [],
      layout: {padding: {left: 50, right: colWidth[p.col] - 50 - plotWidth[p.col], top: 2, bottom: padBottom[p.row]}},
      plugins: {legend: {display: false}, tooltip: {enabled: false}},
      scales: {
        x: {type: "linear", min: -1, max: 1, display: false},
        y: {type: "logarithmic", min: range[0], max: range[1], display: false}
      }
    },
    plugins: [padPlugin(p)]
  });
});
</script>
</body>
</html>
